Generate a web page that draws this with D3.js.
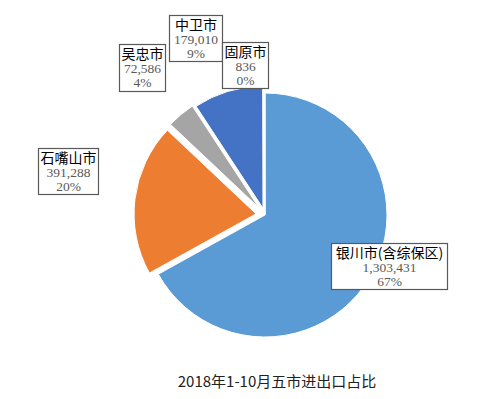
<!DOCTYPE html>
<html>
<head>
<meta charset="utf-8">
<script src="https://cdn.jsdelivr.net/npm/d3@7/dist/d3.min.js"></script>
<style>
  body { margin: 0; background: #fff; }
</style>
</head>
<body>
<div id="chart"></div>
<script>
// data
const cities = ["银川市(含综保区)", "石嘴山市", "吴忠市", "中卫市", "固原市"];
const values = [1303431, 391288, 72586, 179010, 836];
const valueLabels = ["1,303,431", "391,288", "72,586", "179,010", "836"];
const pctLabels = ["67%", "20%", "4%", "9%", "0%"];
const colors = ["#5B9BD5", "#ED7D31", "#A5A5A5", "#4472C4", "#FFC000"];
const explode = [0, 9, 9, 7, 0];
// label boxes: x, y, width, height
const boxes = [
  [331, 243, 116, 46],
  [38, 148, 60, 46],
  [119, 44, 46, 47],
  [169, 15, 53, 46],
  [222, 42, 46, 46]
];
const title = "2018年1-10月五市进出口占比";

const width = 500, height = 399;
const cx = 265, cy = 215, radius = 122;

const svg = d3.select("#chart")
  .append("svg")
  .attr("width", width)
  .attr("height", height);

const rows = cities.map((c, i) => ({ city: c, value: values[i], i: i }));

const pie = d3.pie()
  .sort(null)
  .value(d => d.value);

const arc = d3.arc()
  .innerRadius(0)
  .outerRadius(radius);

const g = svg.append("g")
  .attr("transform", "translate(" + cx + "," + cy + ")");

g.selectAll("path")
  .data(pie(rows))
  .join("path")
  .attr("d", arc)
  .attr("fill", d => colors[d.data.i])
  .attr("stroke", "#fff")
  .attr("stroke-width", 1)
  .attr("transform", d => {
    const a = (d.startAngle + d.endAngle) / 2;
    const off = explode[d.data.i];
    return "translate(" + (Math.sin(a) * off) + "," + (-Math.cos(a) * off) + ")";
  });

// data label boxes
const lab = svg.append("g")
  .selectAll("g")
  .data(rows)
  .join("g")
  .attr("transform", d => "translate(" + boxes[d.i][0] + "," + boxes[d.i][1] + ")");

lab.append("rect")
  .attr("x", 0.5).attr("y", 0.5)
  .attr("width", d => boxes[d.i][2])
  .attr("height", d => boxes[d.i][3])
  .attr("fill", "#fff")
  .attr("stroke", "#595959")
  .attr("stroke-width", 1.2);

// one text per box, three lines as tspans
const txt = lab.append("text")
  .attr("text-anchor", "middle");

txt.append("tspan")
  .attr("x", d => boxes[d.i][2] / 2 + 0.5)
  .attr("y", 14.5)
  .style("font-family", "'Noto Sans CJK SC', sans-serif")
  .style("font-size", "14px")
  .attr("fill", "#000")
  .text(d => d.city);

txt.append("tspan")
  .attr("x", d => boxes[d.i][2] / 2 + 0.5)
  .attr("y", 28.5)
  .style("font-family", "'Liberation Serif', serif")
  .style("font-size", "13.5px")
  .attr("fill", "#595959")
  .text(d => valueLabels[d.i]);

txt.append("tspan")
  .attr("x", d => boxes[d.i][2] / 2 + 0.5)
  .attr("y", 42.5)
  .style("font-family", "'Liberation Serif', serif")
  .style("font-size", "13.5px")
  .attr("fill", "#595959")
  .text(d => pctLabels[d.i]);

// title
svg.append("text")
  .attr("x", 277)
  .attr("y", 380)
  .attr("text-anchor", "middle")
  .attr("dominant-baseline", "central")
  .style("font-family", "'Noto Sans CJK SC', sans-serif")
  .style("font-size", "15px")
  .attr("fill", "#222")
  .text(title);
</script>
</body>
</html>
